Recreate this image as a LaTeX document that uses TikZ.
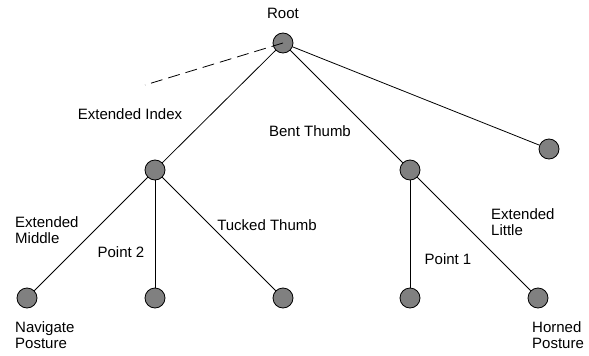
\documentclass[tikz,border=0pt]{standalone}
\usepackage{fontspec}
\setmainfont{Liberation Sans}
\begin{document}
\begin{tikzpicture}[x=1pt,y=-1pt,
  vtx/.style={circle,draw=black,fill=black!50,line width=0.8pt,minimum size=20pt,inner sep=0pt},
  edge/.style={draw=black,line width=0.8pt},
  lbl/.style={font=\fontsize{15}{15.5}\selectfont,inner sep=0pt},
  lblL/.style={lbl,align=left,anchor=west}]
\useasboundingbox (0,0) rectangle (589,356);
% tree vertices
\node[vtx] (root) at (283,43) {};
\node[vtx] (ei) at (155,170) {};
\node[vtx] (bt) at (410,170) {};
\node[vtx] (rt) at (549,149) {};
\node[vtx] (l1) at (27,298) {};
\node[vtx] (l2) at (155,298) {};
\node[vtx] (l3) at (283,298) {};
\node[vtx] (l4) at (410,298) {};
\node[vtx] (l5) at (538,298) {};
\coordinate (dashend) at (145,85);
% branches
\draw[edge] (root) -- (ei);
\draw[edge] (root) -- (bt);
\draw[edge] (root) -- (rt);
\draw[edge] (ei) -- (l1);
\draw[edge] (ei) -- (l2);
\draw[edge] (ei) -- (l3);
\draw[edge] (bt) -- (l4);
\draw[edge] (bt) -- (l5);
\draw[edge,dash pattern=on 12pt off 6pt] (root.center) -- (dashend);
% labels
\node[lbl] (tRoot) at (283,13) {Root};
\node[lbl] (tEI) at (130,114) {Extended Index};
\node[lbl] (tBT) at (310,131) {Bent Thumb};
\node[lblL] (tEM) at (15,230) {Extended\\Middle};
\node[lbl] (tP2) at (121,252) {Point 2};
\node[lbl] (tTT) at (267,225) {Tucked Thumb};
\node[lbl] (tP1) at (448,259) {Point 1};
\node[lblL] (tEL) at (491,222) {Extended\\Little};
\node[lblL] (tNP) at (15,335) {Navigate\\Posture};
\node[lblL] (tHP) at (532,335) {Horned\\Posture};
\end{tikzpicture}
\end{document}
